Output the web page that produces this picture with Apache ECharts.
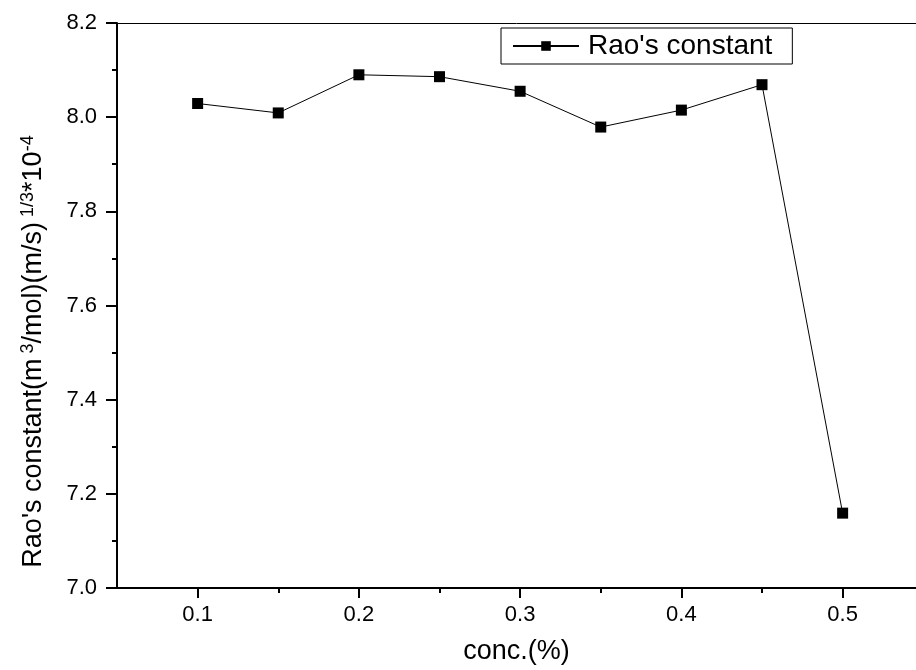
<!DOCTYPE html>
<html>
<head>
<meta charset="utf-8">
<script src="https://cdn.jsdelivr.net/npm/echarts@6/dist/echarts.min.js"></script>
<style>html,body{margin:0;padding:0;background:#fff}#c{width:916px;height:670px}</style>
</head>
<body>
<div id="c"></div>
<script>
const conc = [0.1, 0.15, 0.2, 0.25, 0.3, 0.35, 0.4, 0.45, 0.5];
const raoConstant = [8.029, 8.009, 8.090, 8.086, 8.055, 7.979, 8.015, 8.069, 7.159];
const xMajorTicks = [0.1, 0.2, 0.3, 0.4, 0.5];
const xMinorTicks = [0.15, 0.25, 0.35, 0.45];
const seriesName = "Rao's constant";

const FONT = 'Liberation Sans, Arial, sans-serif';
const chart = echarts.init(document.getElementById('c'));
const gridBox = {left: 117, top: 23, right: 0, bottom: 82, containLabel: false};
chart.setOption({
  animation: false,
  backgroundColor: '#fff',
  grid: [Object.assign({}, gridBox), Object.assign({}, gridBox)],
  legend: {
    data: [seriesName],
    left: 501, top: 28,
    padding: [4, 20, 4, 11],
    borderColor: '#000', borderWidth: 1,
    itemWidth: 66, itemHeight: 12,
    textStyle: {fontFamily: FONT, fontSize: 28, color: '#000', padding: [0, 0, 0, 4]}
  },
  xAxis: [{
    type: 'value', gridIndex: 0, position: 'bottom',
    min: 0.05, max: 0.5455,
    splitLine: {show: false},
    axisLine: {onZero: false, lineStyle: {color: '#000', width: 2}},
    axisTick: {length: 10, lineStyle: {color: '#000', width: 2}, customValues: xMajorTicks},
    axisLabel: {customValues: xMajorTicks, margin: 16, fontFamily: FONT, fontSize: 22, color: '#000',
      formatter: v => v.toFixed(1)},
    name: 'conc.(%)', nameLocation: 'middle', nameGap: 50,
    nameTextStyle: {fontFamily: FONT, fontSize: 27, color: '#000'}
  }, {
    type: 'value', gridIndex: 0, position: 'top',
    min: 0.05, max: 0.5455,
    splitLine: {show: false},
    axisLine: {onZero: false, lineStyle: {color: '#000', width: 1}},
    axisTick: {show: false}, axisLabel: {show: false}
  }, {
    type: 'value', gridIndex: 1, position: 'bottom',
    min: 0.05, max: 0.5455,
    splitLine: {show: false},
    axisLine: {show: false},
    axisTick: {length: 5, lineStyle: {color: '#000', width: 2}, customValues: xMinorTicks},
    axisLabel: {show: false}
  }],
  yAxis: [{
    type: 'value', gridIndex: 0,
    min: 7.0, max: 8.2, interval: 0.2,
    splitLine: {show: false},
    axisLine: {onZero: false, lineStyle: {color: '#000', width: 2}},
    axisTick: {length: 11, lineStyle: {color: '#000', width: 2}},
    minorTick: {show: true, splitNumber: 2, length: 5, lineStyle: {color: '#000', width: 2}},
    axisLabel: {margin: 20, fontFamily: FONT, fontSize: 22, color: '#000', formatter: v => v.toFixed(1)},
    name: "Rao's constant(m{sup| 3}/mol)(m/s){sup| 1/3}*10{sup|-4}",
    nameLocation: 'middle', nameGap: 68, nameRotate: 90,
    nameTextStyle: {fontFamily: FONT, fontSize: 27, color: '#000', padding: [0, 92, 0, 0],
      rich: {sup: {fontFamily: FONT, fontSize: 18, color: '#000', verticalAlign: 'top', padding: [0, 0, 12, 0]}}}
  }, {
    type: 'value', gridIndex: 1, min: 7.0, max: 8.2, interval: 0.2, show: false
  }],
  series: [{
    name: seriesName, type: 'line',
    xAxisIndex: 0, yAxisIndex: 0,
    data: conc.map((c, i) => [c, raoConstant[i]]),
    symbol: 'rect', symbolSize: 11,
    itemStyle: {color: '#000'},
    lineStyle: {color: '#000', width: 1},
    emphasis: {disabled: true}
  }]
});
</script>
</body>
</html>
